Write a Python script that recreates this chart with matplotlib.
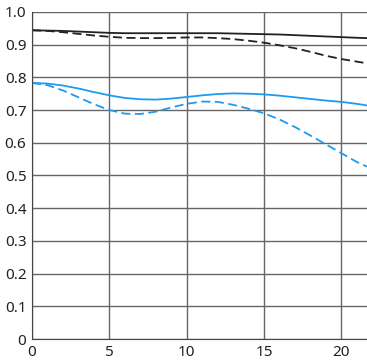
import matplotlib
matplotlib.use("Agg")
import matplotlib.pyplot as plt

# image height (mm) and MTF values
x = [0, 1, 2, 3, 4, 5, 6, 7, 8, 9, 10, 11, 12, 13, 14, 15, 16, 17, 18, 19, 20, 21, 21.65]
black_solid = [0.944, 0.943, 0.942, 0.940, 0.938, 0.936, 0.935, 0.935, 0.935, 0.935, 0.935,
               0.935, 0.935, 0.934, 0.933, 0.932, 0.931, 0.929, 0.927, 0.925, 0.923, 0.921, 0.920]
black_dashed = [0.944, 0.942, 0.938, 0.933, 0.928, 0.924, 0.921, 0.920, 0.920, 0.921, 0.922,
                0.922, 0.920, 0.917, 0.912, 0.906, 0.898, 0.889, 0.878, 0.866, 0.856, 0.848, 0.843]
blue_solid = [0.783, 0.781, 0.775, 0.766, 0.755, 0.745, 0.737, 0.733, 0.732, 0.735, 0.740,
              0.745, 0.749, 0.751, 0.750, 0.748, 0.744, 0.739, 0.734, 0.729, 0.725, 0.719, 0.714]
blue_dashed = [0.783, 0.776, 0.760, 0.739, 0.718, 0.700, 0.689, 0.688, 0.695, 0.708, 0.719,
               0.726, 0.725, 0.716, 0.704, 0.690, 0.671, 0.648, 0.622, 0.595, 0.568, 0.541, 0.527]

fig = plt.figure(figsize=[3.67, 3.63], dpi=100)
ax = fig.add_axes([0.0872, 0.0661, 0.9128, 0.9010])

blue = "#1c9bf2"
ax.plot(x, black_solid, color="#222222", lw=1.3)
ax.plot(x, black_dashed, color="#222222", lw=1.3, dashes=(5, 2.5))
ax.plot(x, blue_solid, color=blue, lw=1.3)
ax.plot(x, blue_dashed, color=blue, lw=1.3, dashes=(5, 2.5))

ax.set_xlim(0, 21.65)
ax.set_ylim(0, 1.0)
ax.set_xticks([0, 5, 10, 15, 20])
ax.set_yticks([0, 0.1, 0.2, 0.3, 0.4, 0.5, 0.6, 0.7, 0.8, 0.9, 1.0])
ax.set_yticklabels(["0", "0.1", "0.2", "0.3", "0.4", "0.5", "0.6", "0.7", "0.8", "0.9", "1.0"])
ax.grid(True, color="#666666", lw=1)
ax.set_axisbelow(True)
ax.tick_params(length=0, labelsize=11, pad=4, colors="#222222")
for lab in ax.get_xticklabels() + ax.get_yticklabels():
    lab.set_family("Noto Sans")

ax.spines["top"].set_visible(False)
ax.spines["right"].set_visible(False)
ax.spines["left"].set_color("#444444")
ax.spines["bottom"].set_color("#444444")

fig.savefig("out.png", dpi=100)
